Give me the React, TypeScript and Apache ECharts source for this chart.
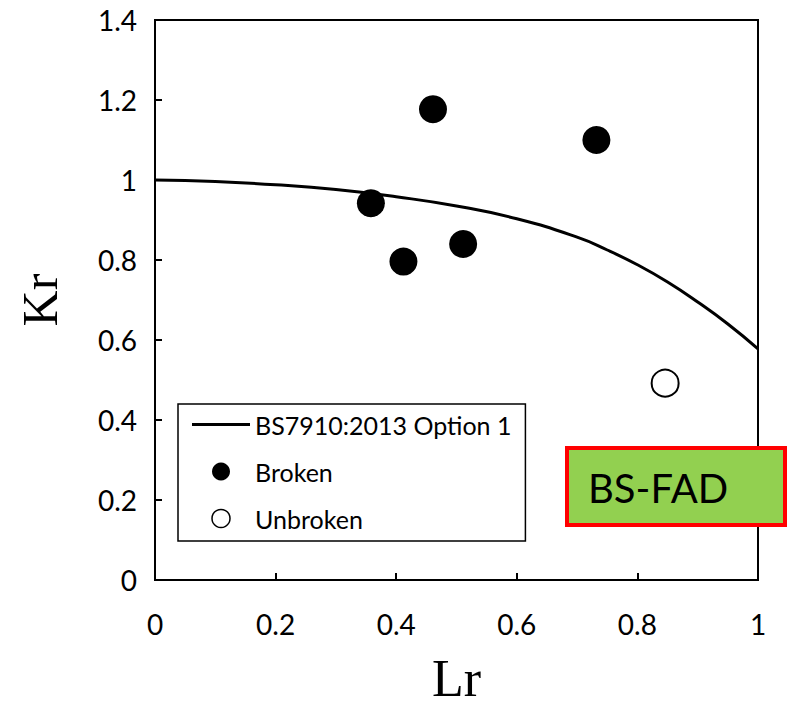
import React, { useEffect, useRef } from "react";
import * as echarts from "echarts";

const curveLr = [0, 0.1, 0.2, 0.3, 0.4, 0.5, 0.6, 0.7, 0.75, 0.8, 0.85, 0.9, 0.95, 1.0];
const curveKr = [1.0, 0.996, 0.988, 0.976, 0.958, 0.935, 0.903, 0.857, 0.825, 0.788, 0.745, 0.695, 0.64, 0.578];

const brokenLr = [0.358, 0.412, 0.461, 0.511, 0.732];
const brokenKr = [0.942, 0.796, 1.177, 0.84, 1.1];

const unbrokenLr = [0.846];
const unbrokenKr = [0.492];

const seriesNames = ["BS7910:2013 Option 1", "Broken", "Unbroken"];
const xTicks = [0, 0.2, 0.4, 0.6, 0.8, 1];
const yTicks = [0, 0.2, 0.4, 0.6, 0.8, 1, 1.2, 1.4];

const tickFont = "Lato";

export default function App() {
  const ref = useRef<HTMLDivElement>(null);
  useEffect(() => {
    if (!ref.current) return;
    const chart = echarts.init(ref.current, null, { renderer: "svg" });
    const fmt = (v: number) => String(+v.toFixed(1));
    chart.setOption({
      animation: false,
      backgroundColor: "#ffffff",
      grid: {
        left: 155,
        right: 30,
        top: 20,
        bottom: 126,
        containLabel: false,
        outerBoundsMode: "none",
        show: true,
        borderColor: "#000",
        borderWidth: 2,
        backgroundColor: "transparent",
      },
      xAxis: {
        type: "value",
        min: xTicks[0],
        max: xTicks[xTicks.length - 1],
        interval: 0.2,
        name: "Lr",
        nameLocation: "middle",
        nameGap: 72,
        nameTextStyle: { fontFamily: "Liberation Serif", fontSize: 52, color: "#000" },
        axisLine: { lineStyle: { color: "#000", width: 2 } },
        axisTick: { inside: true, length: 7, lineStyle: { color: "#000", width: 2 } },
        axisLabel: { fontFamily: tickFont, fontSize: 28, color: "#000", margin: 30, formatter: fmt },
        splitLine: { show: false },
      },
      yAxis: {
        type: "value",
        min: yTicks[0],
        max: yTicks[yTicks.length - 1],
        interval: 0.2,
        name: "Kr",
        nameLocation: "middle",
        nameGap: 90,
        nameRotate: 90,
        nameTextStyle: { fontFamily: "Liberation Serif", fontSize: 50, color: "#000" },
        axisLine: { lineStyle: { color: "#000", width: 2 } },
        axisTick: { inside: true, length: 7, lineStyle: { color: "#000", width: 2 } },
        axisLabel: { fontFamily: tickFont, fontSize: 28, color: "#000", margin: 18, formatter: fmt },
        splitLine: { show: false },
      },
      legend: {
        orient: "vertical",
        left: 178,
        top: 404,
        data: [
          { name: seriesNames[0], icon: "path://M0,0 L100,0 L100,5.5 L0,5.5 Z", itemStyle: { color: "#000", opacity: 1 } },
          { name: seriesNames[1], icon: "circle" },
          { name: seriesNames[2], icon: "circle", itemStyle: { borderWidth: 1.5 } },
        ],
        itemWidth: 58,
        itemHeight: 18,
        itemGap: 22,
        padding: [8, 14, 10, 14],
        borderColor: "#000",
        borderWidth: 1.5,
        backgroundColor: "#fff",
        textStyle: { fontFamily: tickFont, fontSize: 25, color: "#000" },
        selectedMode: false,
      },
      series: [
        {
          name: seriesNames[0],
          type: "line",
          smooth: true,
          symbol: "none",
          showSymbol: false,
          lineStyle: { color: "#000", width: 3 },
          itemStyle: { color: "#000" },
          data: curveLr.map((x, i) => [x, curveKr[i]]),
          z: 2,
        },
        {
          name: seriesNames[1],
          type: "scatter",
          symbol: "circle",
          symbolSize: 28,
          itemStyle: { color: "#000", opacity: 1 },
          data: brokenLr.map((x, i) => [x, brokenKr[i]]),
          z: 3,
        },
        {
          name: seriesNames[2],
          type: "scatter",
          symbol: "circle",
          symbolSize: 27,
          itemStyle: { color: "#fff", borderColor: "#000", borderWidth: 2, opacity: 1 },
          data: unbrokenLr.map((x, i) => [x, unbrokenKr[i]]),
          z: 3,
        },
      ],
      graphic: [
        {
          type: "group",
          z: 100,
          children: [
            {
              type: "rect",
              shape: { x: 567, y: 448, width: 218, height: 77 },
              style: { fill: "#92D050", stroke: "#FF0000", lineWidth: 4 },
            },
            {
              type: "text",
              x: 588,
              y: 488,
              style: {
                text: "BS-FAD",
                fontFamily: tickFont,
                fontSize: 40,
                fill: "#000",
                verticalAlign: "middle",
                align: "left",
              },
            },
          ],
        },
      ],
    });
    return () => chart.dispose();
  }, []);
  return <div ref={ref} style={{ width: 788, height: 706, position: "absolute", left: 0, top: 0 }} />;
}
